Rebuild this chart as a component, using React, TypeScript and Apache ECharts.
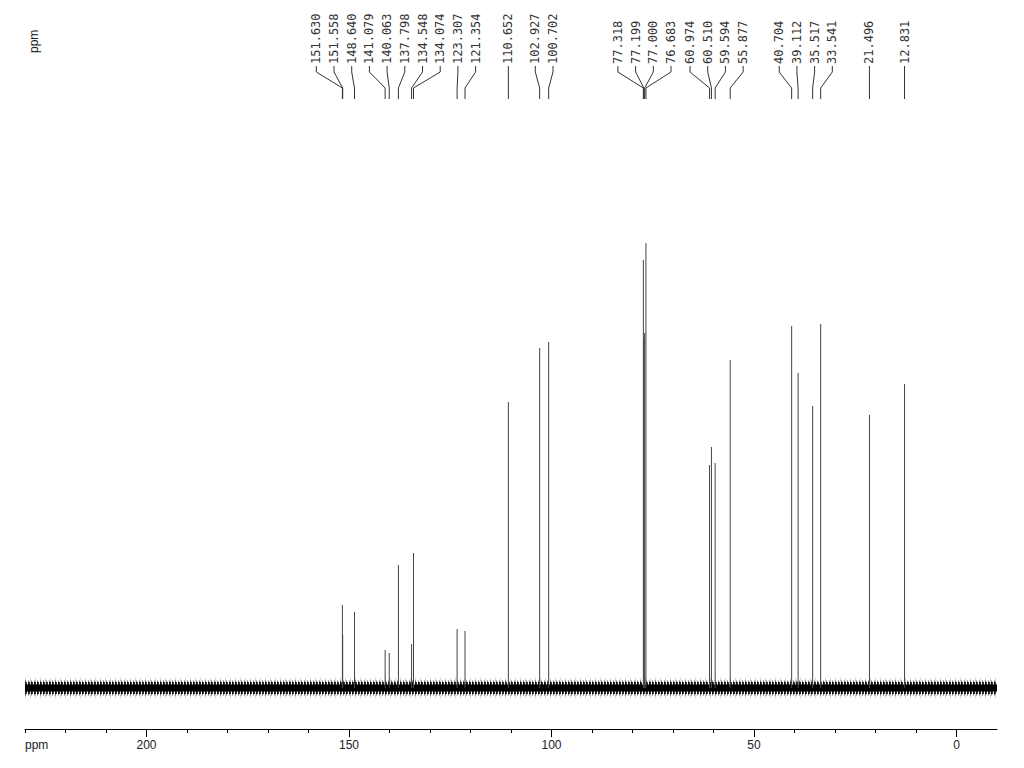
import React, { useEffect, useRef } from "react";
import * as echarts from "echarts";

// Peak positions (ppm) and intensities (relative units)
const peakPpm = [
  151.63, 151.558, 148.64, 141.079, 140.063, 137.798, 134.548, 134.074, 123.307, 121.354,
  110.652, 102.927, 100.702, 77.318, 77.199, 77.0, 76.683, 60.974, 60.51, 59.594, 55.877,
  40.704, 39.112, 35.517, 33.541, 21.496, 12.831,
];
const peakHeight = [
  83, 53, 76, 38, 35, 123, 44, 135, 59, 57,
  286, 340, 346, 428, 350, 355, 445, 223, 241, 225, 328,
  362, 315, 282, 364, 273, 304,
];
const peakLabels = [
  "151.630", "151.558", "148.640", "141.079", "140.063", "137.798", "134.548", "134.074", "123.307", "121.354",
  "110.652", "102.927", "100.702", "77.318", "77.199", "77.000", "76.683", "60.974", "60.510", "59.594", "55.877",
  "40.704", "39.112", "35.517", "33.541", "21.496", "12.831",
];
const majorTicks = [0, 50, 100, 150, 200];
const minorTicks = [10, 20, 30, 40, 60, 70, 80, 90, 110, 120, 130, 140, 160, 170, 180, 190, 210, 220, 230];
const baselineSpan = [230, -10];

const LABEL_GAP = 17.7;

function layoutLabels(xs: number[], gap: number): number[] {
  let clusters = xs.map((x, i) => ({ s: i, e: i, sum: x }));
  const pos = (c: any) => {
    const n = c.e - c.s + 1;
    const center = c.sum / n;
    return { first: center - ((n - 1) / 2) * gap, last: center + ((n - 1) / 2) * gap };
  };
  let merged = true;
  while (merged) {
    merged = false;
    for (let k = 0; k < clusters.length - 1; k++) {
      const a = clusters[k];
      const b = clusters[k + 1];
      if (pos(a).last + gap > pos(b).first + 0.01) {
        clusters.splice(k, 2, { s: a.s, e: b.e, sum: a.sum + b.sum });
        merged = true;
        break;
      }
    }
  }
  const out: number[] = new Array(xs.length);
  clusters.forEach((c) => {
    const p = pos(c);
    for (let i = c.s; i <= c.e; i++) out[i] = p.first + (i - c.s) * gap;
  });
  return out;
}

export default function App() {
  const ref = useRef<HTMLDivElement>(null);
  useEffect(() => {
    if (!ref.current) return;
    const chart = echarts.init(ref.current, null, { renderer: "svg" });
    const axisCommon = {
      type: "value" as const,
      min: -10,
      max: 230,
      inverse: true,
      position: "bottom" as const,
      offset: 0,
      splitLine: { show: false },
    };
    const band = (width: number, color: string, dash: any, z: number) => ({
      type: "line",
      xAxisIndex: 0,
      data: baselineSpan.map((x) => [x, 0]),
      symbol: "none",
      lineStyle: { color, width, type: dash, cap: "butt" },
      z,
      silent: true,
    });
    chart.setOption({
      animation: false,
      backgroundColor: "#ffffff",
      grid: { left: 25, right: 27, top: 129, bottom: 39 },
      xAxis: [
        {
          ...axisCommon,
          interval: 10,
          axisLine: { show: true, onZero: false, lineStyle: { color: "#000", width: 1 } },
          axisTick: { show: true, length: 4, customValues: minorTicks, lineStyle: { color: "#000" } },
          axisLabel: {
            show: true,
            customValues: majorTicks,
            margin: 10,
            color: "#222",
            fontFamily: "Liberation Sans",
            fontSize: 12,
          },
        },
        {
          ...axisCommon,
          interval: 10,
          axisLine: { show: false, onZero: false },
          axisTick: { show: true, length: 8, customValues: majorTicks, lineStyle: { color: "#000" } },
          axisLabel: { show: false },
        },
      ],
      yAxis: { type: "value", min: -41, max: 559, show: false },
      graphic: [
        {
          type: "text",
          left: 25,
          top: 739,
          style: { text: "ppm", fill: "#222", font: "12px 'Liberation Sans'" },
        },
        {
          type: "text",
          x: 34,
          y: 53,
          rotation: Math.PI / 2,
          style: { text: "ppm", fill: "#222", font: "12px 'Liberation Sans'", align: "left", verticalAlign: "middle" },
        },
      ],
      series: [
        band(20, "rgba(0,0,0,0.18)", [1, 4], 1),
        band(15, "rgba(0,0,0,0.55)", [1, 2], 1),
        band(12, "rgba(0,0,0,0.8)", [2, 1], 1),
        band(7, "#000", "solid", 2),
        {
          type: "custom",
          xAxisIndex: 0,
          z: 3,
          data: peakPpm.map((p, i) => [p, peakHeight[i]]),
          renderItem: (params: any, api: any) => {
            const i = params.dataIndex;
            const xs = peakPpm.map((p) => api.coord([p, 0])[0]);
            const lx = layoutLabels(xs, LABEL_GAP)[i];
            const base = api.coord([peakPpm[i], 0]);
            const top = api.coord([peakPpm[i], peakHeight[i]]);
            const px = base[0];
            return {
              type: "group",
              children: [
                {
                  type: "line",
                  shape: { x1: px, y1: base[1], x2: top[0], y2: top[1] },
                  style: { stroke: "#444", lineWidth: 1 },
                },
                {
                  type: "polyline",
                  shape: { points: [[lx, 66], [lx, 72], [px, 88], [px, 99]] },
                  style: { stroke: "#333", fill: null, lineWidth: 1 },
                },
                {
                  type: "text",
                  x: lx,
                  y: 64,
                  rotation: Math.PI / 2,
                  style: {
                    text: peakLabels[i],
                    fill: "#333",
                    font: "12px 'DejaVu Sans Mono'",
                    align: "left",
                    verticalAlign: "middle",
                  },
                },
              ],
            };
          },
        },
      ],
    });
    return () => chart.dispose();
  }, []);
  return <div ref={ref} style={{ width: 1024, height: 768, position: "absolute", left: 0, top: 0 }} />;
}
